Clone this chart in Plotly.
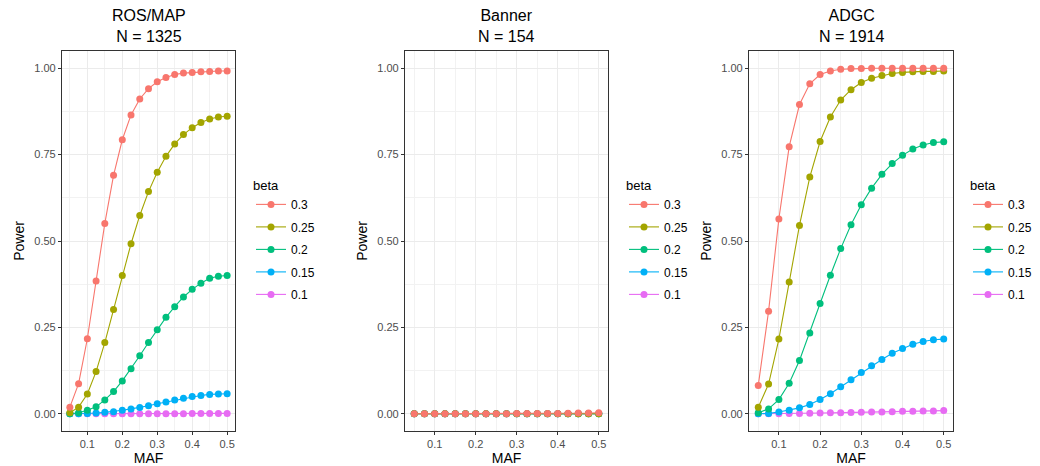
import plotly.graph_objects as go

# ---------------- data ----------------
maf = [0.05, 0.075, 0.1, 0.125, 0.15, 0.175, 0.2, 0.225, 0.25, 0.275,
       0.3, 0.325, 0.35, 0.375, 0.4, 0.425, 0.45, 0.475, 0.5]

betas = ["0.3", "0.25", "0.2", "0.15", "0.1"]
colors = ["#F8766D", "#A3A500", "#00BF7D", "#00B0F6", "#E76BF3"]

panel_titles = ["ROS/MAP<br>N = 1325", "Banner<br>N = 154", "ADGC<br>N = 1914"]

rosmap_b030 = [0.019, 0.087, 0.217, 0.384, 0.551, 0.690, 0.793, 0.865, 0.911, 0.941,
               0.961, 0.973, 0.982, 0.986, 0.988, 0.990, 0.991, 0.992, 0.992]
rosmap_b025 = [0.003, 0.019, 0.057, 0.122, 0.206, 0.302, 0.400, 0.492, 0.574, 0.643,
               0.699, 0.745, 0.781, 0.808, 0.828, 0.843, 0.853, 0.859, 0.861]
rosmap_b020 = [0.000, 0.003, 0.010, 0.020, 0.040, 0.064, 0.095, 0.130, 0.168, 0.206,
               0.243, 0.279, 0.310, 0.338, 0.360, 0.378, 0.392, 0.398, 0.400]
rosmap_b015 = [0.000, 0.000, 0.001, 0.002, 0.004, 0.006, 0.010, 0.014, 0.018, 0.023,
               0.029, 0.034, 0.040, 0.045, 0.050, 0.053, 0.056, 0.057, 0.058]
rosmap_b010 = [0.000, 0.000, 0.000, 0.000, 0.000, 0.000, 0.000, 0.000, 0.000, 0.000,
               0.000, 0.000, 0.000, 0.000, 0.001, 0.001, 0.001, 0.001, 0.001]

banner_b030 = [0.000, 0.000, 0.000, 0.000, 0.000, 0.000, 0.000, 0.000, 0.000, 0.000,
               0.0005, 0.0005, 0.001, 0.001, 0.001, 0.0015, 0.002, 0.002, 0.003]
banner_b025 = [0.000] * 19
banner_b020 = [0.000] * 19
banner_b015 = [0.000] * 19
banner_b010 = [0.000] * 19

adgc_b030 = [0.082, 0.297, 0.564, 0.773, 0.895, 0.955, 0.982, 0.992, 0.997, 0.999,
             0.999, 1.000, 1.000, 1.000, 1.000, 1.000, 1.000, 1.000, 1.000]
adgc_b025 = [0.019, 0.086, 0.216, 0.381, 0.545, 0.685, 0.788, 0.859, 0.908, 0.938,
             0.959, 0.971, 0.979, 0.985, 0.988, 0.990, 0.991, 0.991, 0.992]
adgc_b020 = [0.003, 0.014, 0.041, 0.088, 0.154, 0.234, 0.319, 0.401, 0.478, 0.547,
             0.605, 0.653, 0.693, 0.724, 0.748, 0.766, 0.778, 0.785, 0.787]
adgc_b015 = [0.000, 0.001, 0.005, 0.010, 0.017, 0.027, 0.041, 0.058, 0.078, 0.098,
             0.119, 0.139, 0.157, 0.175, 0.189, 0.201, 0.209, 0.214, 0.216]
adgc_b010 = [0.000, 0.000, 0.000, 0.0005, 0.001, 0.0015, 0.002, 0.0025, 0.003, 0.0035,
             0.004, 0.005, 0.005, 0.006, 0.007, 0.007, 0.008, 0.008, 0.009]

panels = [
    [rosmap_b030, rosmap_b025, rosmap_b020, rosmap_b015, rosmap_b010],
    [banner_b030, banner_b025, banner_b020, banner_b015, banner_b010],
    [adgc_b030, adgc_b025, adgc_b020, adgc_b015, adgc_b010],
]

x_ticks = [0.1, 0.2, 0.3, 0.4, 0.5]
y_ticks = [0.0, 0.25, 0.5, 0.75, 1.0]

# ---------------- layout geometry ----------------
W, H = 1040, 466
x_domains_px = [(62, 235), (405, 608), (749, 953)]
y_domain_px = (51, 431)
legend_left_px = [251, 624, 968]
legend_top_px = 173

FONT = "Liberation Sans, Arial, sans-serif"

fig = go.Figure()

for p, series in enumerate(panels):
    ax = "" if p == 0 else str(p + 1)
    leg = "legend" if p == 0 else f"legend{p + 1}"
    # draw lowest beta first so that higher beta sits on top
    for i in reversed(range(len(betas))):
        fig.add_trace(go.Scatter(
            x=maf, y=series[i], name=betas[i],
            mode="lines+markers",
            line=dict(color=colors[i], width=1.1),
            marker=dict(color=colors[i], size=7),
            xaxis="x" + ax, yaxis="y" + ax,
            legend=leg, legendgroup=f"p{p}_{betas[i]}",
            legendrank=i + 1,
            showlegend=True,
        ))

layout = dict(
    width=W, height=H,
    margin=dict(l=0, r=0, t=0, b=0, autoexpand=False),
    paper_bgcolor="white", plot_bgcolor="white",
    font=dict(family=FONT, color="black"),
    annotations=[],
)

for p in range(3):
    ax = "" if p == 0 else str(p + 1)
    x0, x1 = x_domains_px[p]
    layout["xaxis" + ax] = dict(
        domain=[x0 / W, x1 / W],
        anchor="y" + ax,
        automargin=False,
        range=[0.0275, 0.5225],
        tickvals=x_ticks, ticktext=[f"{v:g}" for v in x_ticks],
        showgrid=True, gridcolor="#EBEBEB", gridwidth=1.1,
        minor=dict(showgrid=True, gridcolor="#F2F2F2", gridwidth=0.6,
                   tickvals=[0.05, 0.15, 0.25, 0.35, 0.45], ticks=""),
        zeroline=False,
        showline=True, mirror=True, linecolor="#333333", linewidth=1.1,
        ticks="outside", ticklen=3, tickwidth=1.1, tickcolor="#333333",
        tickfont=dict(family=FONT, size=11, color="#4D4D4D"),
        title=dict(text="MAF", font=dict(family=FONT, size=14, color="black"),
                   standoff=4),
    )
    layout["yaxis" + ax] = dict(
        domain=[1 - y_domain_px[1] / H, 1 - y_domain_px[0] / H],
        anchor="x" + ax,
        automargin=False,
        range=[-0.05, 1.05],
        tickvals=y_ticks, ticktext=[f"{v:.2f}" for v in y_ticks],
        showgrid=True, gridcolor="#EBEBEB", gridwidth=1.1,
        minor=dict(showgrid=True, gridcolor="#F2F2F2", gridwidth=0.6,
                   tickvals=[0.125, 0.375, 0.625, 0.875], ticks=""),
        zeroline=False,
        showline=True, mirror=True, linecolor="#333333", linewidth=1.1,
        ticks="outside", ticklen=3, tickwidth=1.1, tickcolor="#333333",
        tickfont=dict(family=FONT, size=11, color="#4D4D4D"),
        title=dict(text="Power", font=dict(family=FONT, size=14, color="black"),
                   standoff=6),
    )
    leg = "legend" if p == 0 else f"legend{p + 1}"
    layout[leg] = dict(
        x=legend_left_px[p] / W, xanchor="left",
        y=1 - legend_top_px / H, yanchor="top",
        title=dict(text="beta", font=dict(family=FONT, size=13, color="black")),
        font=dict(family=FONT, size=12, color="black"),
        traceorder="grouped",
        tracegroupgap=3.5,
        bgcolor="rgba(0,0,0,0)",
        borderwidth=0,
        itemclick=False, itemdoubleclick=False,
    )
    layout["annotations"].append(dict(
        text=panel_titles[p], xref="paper", yref="paper",
        x=(x0 + x1) / 2 / W, y=1 - 26 / H, xanchor="center", yanchor="middle",
        showarrow=False, align="center",
        font=dict(family=FONT, size=16, color="black"),
    ))

fig.update_layout(**layout)
fig.write_html("out.html",
               config={"displayModeBar": False},
               post_script="document.body.style.margin='0';document.body.style.padding='0';")
